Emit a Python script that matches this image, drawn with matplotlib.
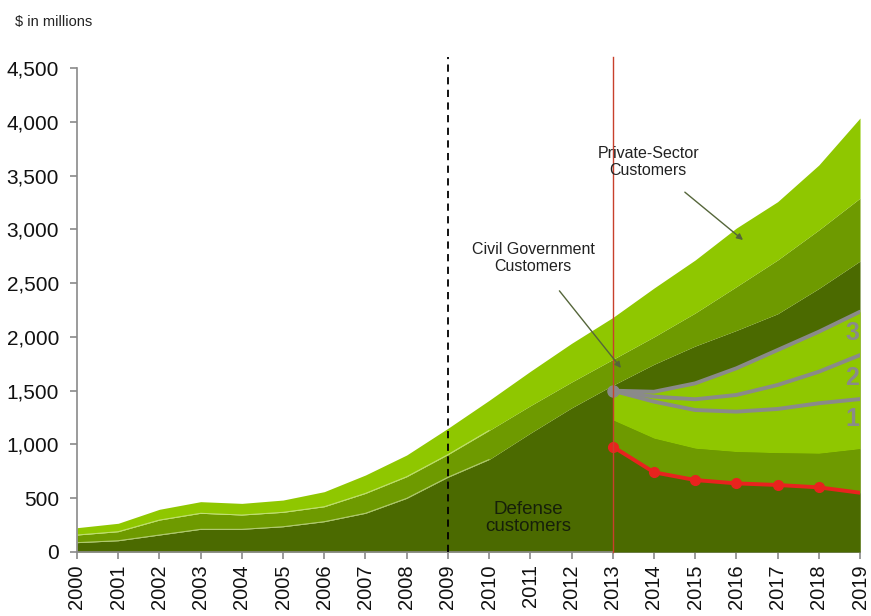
import matplotlib
matplotlib.use("Agg")
import matplotlib.pyplot as plt
import numpy as np

plt.rcParams['font.family'] = ['Liberation Sans', 'DejaVu Sans']

# Historical + baseline forecast, $ millions (stack tops)
years = list(range(2000, 2020))
defense_top = [87, 105, 158, 211, 211, 235, 282, 360, 499, 695,
               860, 1105, 1340, 1550, 1745, 1915, 2060, 2215, 2450, 2705]
civil_top = [158, 189, 297, 360, 344, 369, 421, 545, 700, 905,
             1130, 1360, 1580, 1790, 2000, 2222, 2467, 2715, 2994, 3290]
private_top = [226, 267, 397, 468, 452, 483, 561, 716, 902, 1150,
               1410, 1680, 1940, 2180, 2454, 2715, 3012, 3257, 3598, 4035]

# Reduced-defense scenario from 2013 onward
scen_years = list(range(2013, 2020))
scen_defense = [980, 741, 669, 638, 623, 601, 551]
scen_civil_top = [1227, 1057, 964, 933, 923, 917, 960]
path_1 = [1500, 1398, 1320, 1305, 1330, 1383, 1422]
path_2 = [1500, 1445, 1420, 1460, 1553, 1676, 1831]
path_3 = [1500, 1490, 1568, 1708, 1878, 2048, 2234]
path_labels = [('3', 2040), ('2', 1615), ('1', 1235)]

dark = '#4B6A00'
mid = '#6E9A00'
bright = '#8FC700'
gray = '#8A8A8A'
red = '#E8231E'

fig = plt.figure(figsize=(8.71, 6.16), dpi=100)
ax = fig.add_axes([0.0884, 0.1039, 0.899, 0.7857])

ax.fill_between(years, 0, defense_top, color=dark, linewidth=0)
ax.fill_between(years, defense_top, civil_top, color=mid, linewidth=0)
ax.fill_between(years, civil_top, private_top, color=bright, linewidth=0)

# faint separators between layers over the historical years
hist = slice(0, 11)
for top in (defense_top, civil_top):
    ax.plot(years[hist], top[hist], color=(0.92, 0.96, 0.82, 0.55), lw=0.7, zorder=2)

# scenario overlay
ax.fill_between(scen_years, 0, scen_defense, color=dark, linewidth=0, zorder=3)
ax.fill_between(scen_years, scen_defense, scen_civil_top, color=mid, linewidth=0, zorder=3)
ax.fill_between(scen_years, scen_civil_top, path_3, color=bright, linewidth=0, zorder=3)

for p in (path_1, path_2, path_3):
    ax.plot(scen_years, p, color=gray, lw=2.8, solid_capstyle='round', zorder=4)
ax.plot([2013], [1500], 'o', color=gray, ms=8, zorder=5)
ax.plot(scen_years, scen_defense, color=red, lw=2.8, marker='o', ms=7,
        markevery=list(range(6)), zorder=5)

for lbl, yv in path_labels:
    ax.text(2018.98, yv, lbl, color=gray, fontsize=18, fontweight='bold',
            ha='right', va='center', zorder=6)

# reference lines
ax.plot([2009, 2009], [0, 4600], color='black', lw=1.3, ls=(0, (4, 3)),
        clip_on=False, zorder=6)
ax.plot([2013, 2013], [0, 4600], color='#C8402C', lw=1.0, clip_on=False, zorder=6)

# annotations
ax.text(2010.94, 316, 'Defense\ncustomers', fontsize=13.5, color='#16200a',
        ha='center', va='center', linespacing=1.0, zorder=6)
ax.annotate('Civil Government\nCustomers', xy=(2013.2, 1711), xytext=(2011.07, 2733),
            fontsize=11.5, color='#222222', ha='center', va='center',
            linespacing=1.15, zorder=7,
            arrowprops=dict(arrowstyle='-|>', color='#55663a', lw=1.0,
                            shrinkA=13, shrinkB=0, mutation_scale=9))
ax.annotate('Private-Sector\nCustomers', xy=(2016.16, 2901), xytext=(2013.86, 3626),
            fontsize=11.5, color='#222222', ha='center', va='center',
            linespacing=1.15, zorder=7,
            arrowprops=dict(arrowstyle='-|>', color='#55663a', lw=1.0,
                            shrinkA=13, shrinkB=0, mutation_scale=9))

ax.set_xlim(2000, 2019)
ax.set_ylim(0, 4500)
ax.set_xticks(years)
ax.set_xticklabels([str(y) for y in years], rotation=90, fontsize=14.5)
yt = np.arange(0, 4501, 500)
ax.set_yticks(yt)
ax.set_yticklabels([f'{v:,}' for v in yt], fontsize=15)
for s in ('top', 'right'):
    ax.spines[s].set_visible(False)
for s in ('left', 'bottom'):
    ax.spines[s].set_color('#8a8a8a')
    ax.spines[s].set_linewidth(1.2)
ax.tick_params(axis='both', colors='#8a8a8a', length=5, width=1.2, labelcolor='#111111')
ax.tick_params(axis='y', pad=8)
ax.tick_params(axis='x', pad=4)

fig.text(0.017, 0.965, '\\$ in millions', fontsize=10.5, color='#222222', va='center')

fig.savefig('out.png', dpi=100)
